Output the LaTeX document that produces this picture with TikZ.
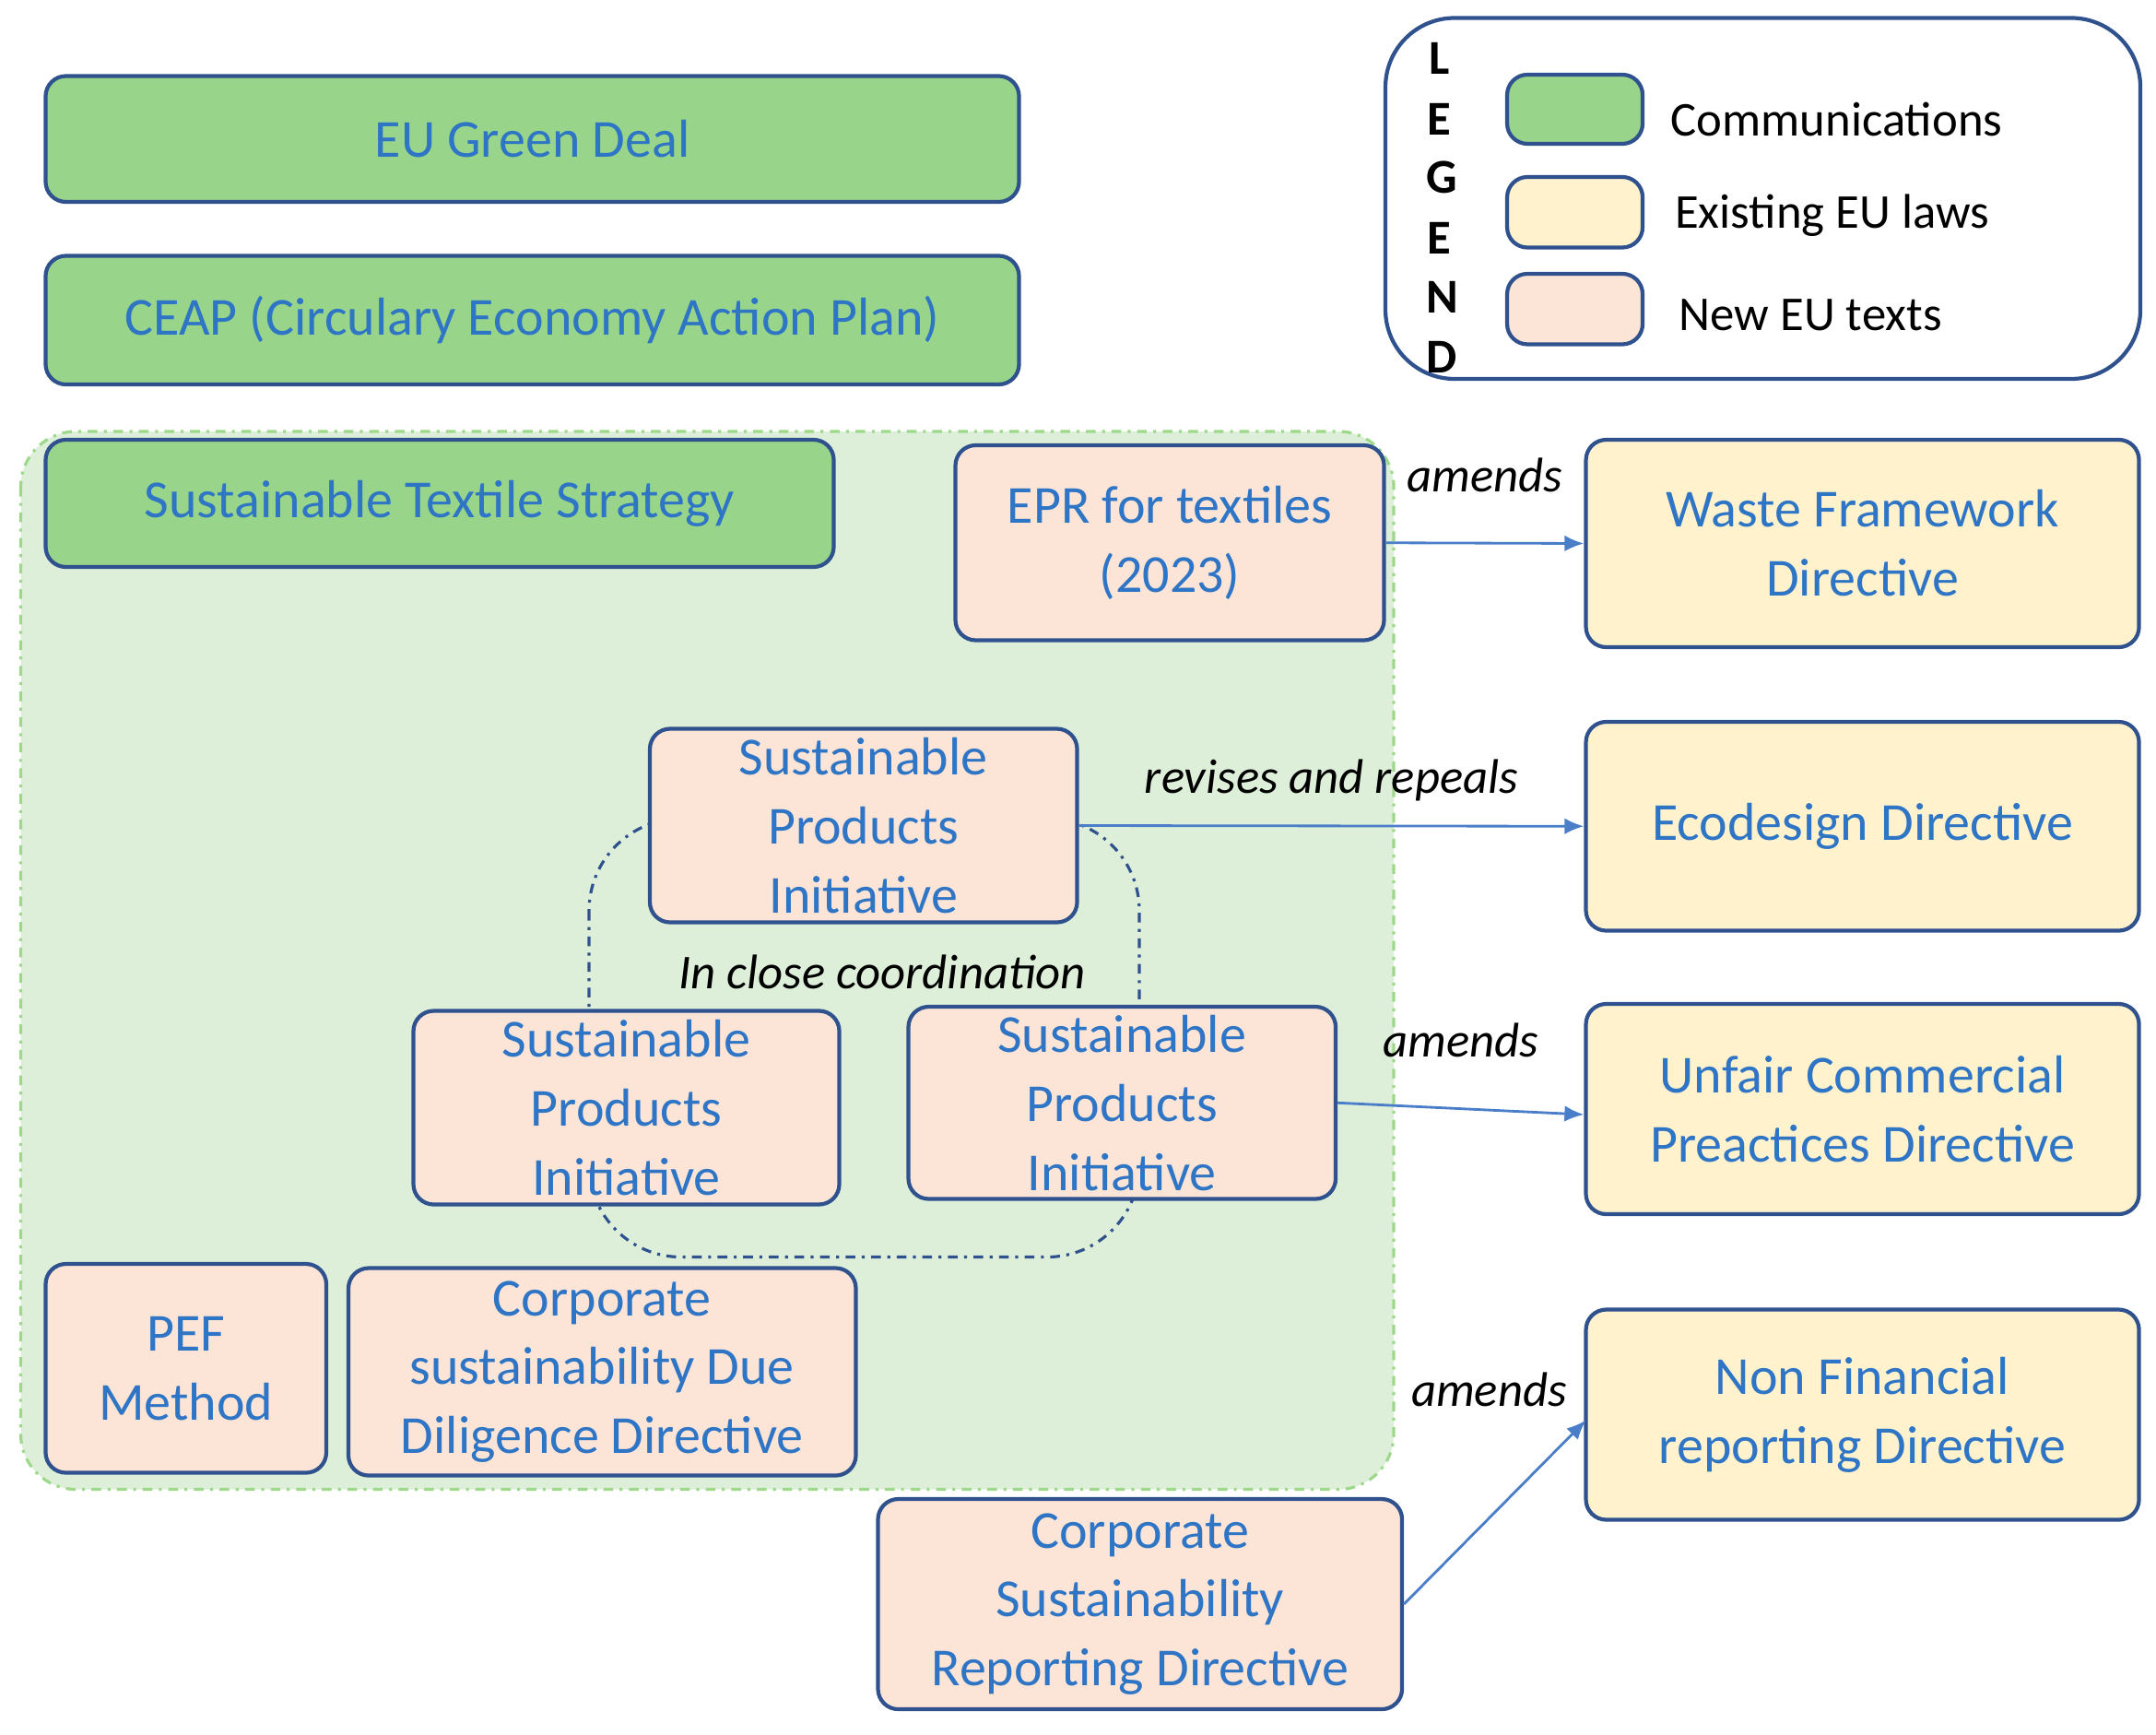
\documentclass[tikz,border=0pt]{standalone}
\usepackage{fontspec}
\setmainfont{Carlito}
\usetikzlibrary{arrows.meta}
\definecolor{txt}{HTML}{2E75C6}
\definecolor{bord}{HTML}{2F528F}
\definecolor{gfill}{HTML}{98D48A}
\definecolor{yfill}{HTML}{FFF2CC}
\definecolor{pfill}{HTML}{FCE4D6}
\definecolor{region}{HTML}{DDEFD9}
\definecolor{regionb}{HTML}{9ED88A}
\definecolor{arr}{HTML}{4A7EC8}
\begin{document}
\begin{tikzpicture}[x=0.015cm,y=-0.015cm,
  box/.style={draw=bord,line width=1.2pt,rounded corners=0.22cm,align=center,inner sep=0pt,
    text=txt,font=\fontsize{16.5}{21.3}\selectfont},
  gbox/.style={box,fill=gfill},
  ybox/.style={box,fill=yfill},
  pbox/.style={box,fill=pfill},
  lab/.style={font=\fontsize{15}{18}\selectfont\itshape,text=black},
  link/.style={draw=arr,line width=0.8pt,-{Latex[length=6pt,width=5pt]}},
  leg/.style={font=\fontsize{15}{18}\selectfont\bfseries,text=black,inner sep=0pt}]
\useasboundingbox (0,0) rectangle (1559.3,1254);
% region
\fill[region,rounded corners=0.6cm] (15,312) rectangle (1008,1077);
\draw[regionb,line width=0.9pt,dash dot,rounded corners=0.6cm] (15,312) rectangle (1008,1077);
\draw[bord,line width=0.9pt,dash dot,rounded corners=1.0cm] (426,592) rectangle (824,909);
% boxes
\node[gbox,minimum width=10.56cm,minimum height=1.365cm] (gd) at (385,100.5) {EU Green Deal};
\node[gbox,minimum width=10.56cm,minimum height=1.395cm] (ceap) at (385,231.5) {CEAP (Circulary Economy Action Plan)};
\node[gbox,minimum width=8.55cm,minimum height=1.38cm] (sts) at (318,364) {Sustainable Textile Strategy};
\node[pbox,minimum width=4.65cm,minimum height=2.115cm] (epr) at (846,392.5) {EPR for textiles\\(2023)};
\node[ybox,minimum width=6cm,minimum height=2.25cm] (wfd) at (1347,393) {Waste Framework\\Directive};
\node[ybox,minimum width=6cm,minimum height=2.265cm] (eco) at (1347,597.5) {Ecodesign Directive};
\node[ybox,minimum width=6cm,minimum height=2.28cm] (ucp) at (1347,802) {Unfair Commercial\\Preactices Directive};
\node[ybox,minimum width=6cm,minimum height=2.28cm] (nfr) at (1347,1023) {Non Financial\\reporting Directive};
\node[pbox,minimum width=4.635cm,minimum height=2.1cm] (spit) at (624.5,597) {Sustainable\\Products\\Initiative};
\node[pbox,minimum width=4.62cm,minimum height=2.1cm] (spil) at (453,801) {Sustainable\\Products\\Initiative};
\node[pbox,minimum width=4.635cm,minimum height=2.085cm] (spir) at (811.5,797.5) {Sustainable\\Products\\Initiative};
\node[pbox,minimum width=3.045cm,minimum height=2.265cm] (pef) at (134.5,989.5) {PEF\\Method};
\node[pbox,minimum width=5.505cm,minimum height=2.25cm] (csddd) at (435.5,992) {Corporate\\sustainability Due\\Diligence Directive};
\node[pbox,minimum width=5.685cm,minimum height=2.28cm] (csrd) at (824.5,1160) {Corporate\\Sustainability\\Reporting Directive};
\node[lab] (coord) at (638,703) {In close coordination};
% arrows
\draw[link] (epr.east) -- (wfd.west) node[lab,pos=0.5,above=12pt] (l1) {amends};
\draw[link] (spit.east) -- (eco.west) node[lab,pos=0.5,above=4pt] (l2) {revises and repeals};
\draw[link] (spir.east) -- ([yshift=-0.06cm]ucp.west) node[lab,pos=0.5,above=12pt] (l3) {amends};
\coordinate (nfin) at (1147,1027);
\draw[link] (csrd.east) -- (nfin);
\node[lab] (l4) at (1077,1005) {amends};
% legend
\draw[bord,line width=1.2pt,rounded corners=0.75cm] (1002,13) rectangle (1548,274);
\node[leg] (L1) at (1041,42) {L};
\node[leg] (L2) at (1041,86) {E};
\node[leg] (L3) at (1043,128) {G};
\node[leg] (L4) at (1041,172) {E};
\node[leg] (L5) at (1043,215) {N};
\node[leg] (L6) at (1043,258) {D};
\node[gbox,minimum width=1.47cm,minimum height=0.75cm] (s1) at (1139,79) {};
\node[ybox,minimum width=1.47cm,minimum height=0.765cm] (s2) at (1139,153.5) {};
\node[pbox,minimum width=1.47cm,minimum height=0.765cm] (s3) at (1139,223.5) {};
\node[anchor=west,font=\fontsize{15}{18}\selectfont,inner sep=0pt] (t1) at (1208,86) {Communications};
\node[anchor=west,font=\fontsize{15}{18}\selectfont,inner sep=0pt] (t2) at (1211,156) {Existing EU laws};
\node[anchor=west,font=\fontsize{15}{18}\selectfont,inner sep=0pt] (t3) at (1214,228) {New EU texts};
\end{tikzpicture}
\end{document}
